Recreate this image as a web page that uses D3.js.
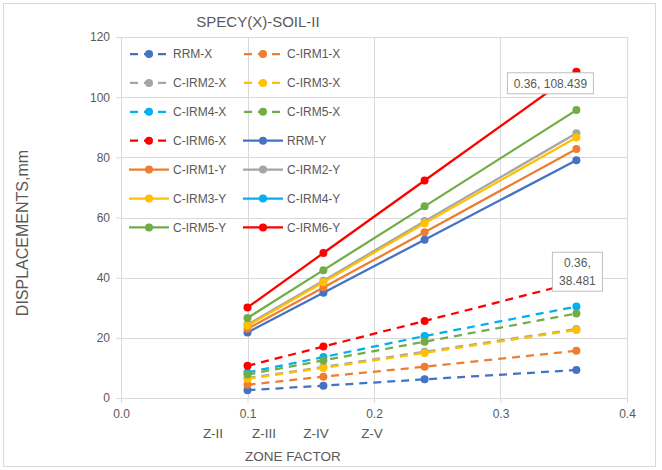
<!DOCTYPE html>
<html>
<head>
<meta charset="utf-8">
<script src="https://cdn.jsdelivr.net/npm/d3@7"></script>
<style>
  body { margin: 0; background: #fff; }
  svg { display: block; font-family: "Liberation Sans", Arial, sans-serif; }
</style>
</head>
<body>
<svg id="chart" width="662" height="470"></svg>
<script>
// zone factors on the x axis
var zoneFactor = [0.1, 0.16, 0.24, 0.36];
var xTicks = [0.0, 0.1, 0.2, 0.3, 0.4];
var yTicks = [0, 20, 40, 60, 80, 100, 120];
var zoneLabels = ["Z-II", "Z-III", "Z-IV", "Z-V"];

// displacements, mm
var rrmX   = [2.6, 4.1, 6.2, 9.3];
var cirm1X = [4.4, 7.1, 10.4, 15.7];
var cirm2X = [6.6, 10.3, 15.4, 22.9];
var cirm3X = [6.4, 10.0, 15.0, 22.6];
var cirm4X = [8.5, 13.6, 20.6, 30.4];
var cirm5X = [7.8, 12.5, 18.7, 28.1];
var cirm6X = [10.7, 17.1, 25.6, 38.481];
var rrmY   = [21.8, 35.0, 52.6, 79.0];
var cirm1Y = [23.0, 36.7, 55.1, 82.8];
var cirm2Y = [24.4, 39.0, 58.8, 88.0];
var cirm3Y = [24.0, 38.5, 58.1, 86.6];
var cirm4Y = [];
var cirm5Y = [26.6, 42.5, 63.7, 95.7];
var cirm6Y = [30.1, 48.2, 72.3, 108.439];

var seriesNames = ["RRM-X", "C-IRM1-X", "C-IRM2-X", "C-IRM3-X", "C-IRM4-X", "C-IRM5-X", "C-IRM6-X",
                   "RRM-Y", "C-IRM1-Y", "C-IRM2-Y", "C-IRM3-Y", "C-IRM4-Y", "C-IRM5-Y", "C-IRM6-Y"];
var seriesValues = [rrmX, cirm1X, cirm2X, cirm3X, cirm4X, cirm5X, cirm6X,
                    rrmY, cirm1Y, cirm2Y, cirm3Y, cirm4Y, cirm5Y, cirm6Y];
var palette = ["#4472C4", "#ED7D31", "#A5A5A5", "#FFC000", "#00B0F0", "#70AD47", "#FF0000"];

var series = seriesNames.map(function(name, i) {
  return {
    name: name,
    color: palette[i % 7],
    dashed: i < 7,
    points: seriesValues[i].map(function(v, j) { return {x: zoneFactor[j], y: v}; })
  };
});

var svg = d3.select("#chart");
var margin = {top: 37, right: 35, bottom: 72, left: 121};
var width = 662 - margin.left - margin.right;
var height = 470 - margin.top - margin.bottom;
var textColor = "#595959";
var gridColor = "#d9d9d9";

// outer chart border
svg.append("rect")
  .attr("x", 3.5).attr("y", 3.5)
  .attr("width", 652).attr("height", 463)
  .attr("fill", "none")
  .attr("stroke", gridColor);

var x = d3.scaleLinear().domain([0, 0.4]).range([0, width]);
var y = d3.scaleLinear().domain([0, 120]).range([height, 0]);

var g = svg.append("g").attr("transform", "translate(" + margin.left + "," + margin.top + ")");

// gridlines
g.append("g")
  .selectAll("line.h")
  .data(yTicks.slice(1))
  .enter().append("line")
  .attr("x1", 0).attr("x2", width)
  .attr("y1", function(d) { return Math.round(y(d)) + 0.5; })
  .attr("y2", function(d) { return Math.round(y(d)) + 0.5; })
  .attr("stroke", gridColor);

g.append("g")
  .selectAll("line.v")
  .data(xTicks.slice(1))
  .enter().append("line")
  .attr("y1", 0).attr("y2", height)
  .attr("x1", function(d) { return Math.round(x(d)) + 0.5; })
  .attr("x2", function(d) { return Math.round(x(d)) + 0.5; })
  .attr("stroke", gridColor);

// axes
var xAxis = g.append("g")
  .attr("transform", "translate(0," + height + ")")
  .call(d3.axisBottom(x).tickValues(xTicks).tickFormat(d3.format(".1f")).tickSize(5).tickSizeOuter(0));

var yAxis = g.append("g")
  .call(d3.axisLeft(y).tickValues(yTicks).tickSize(5).tickSizeOuter(0));

[xAxis, yAxis].forEach(function(ax) {
  ax.select(".domain").attr("stroke", gridColor);
  ax.selectAll(".tick line").attr("stroke", gridColor);
  ax.selectAll(".tick text")
    .attr("fill", textColor)
    .style("font-size", "12px")
    .style("font-family", "Liberation Sans, Arial, sans-serif");
});
yAxis.selectAll(".tick text").attr("x", -11);
xAxis.selectAll(".tick text").attr("y", 11);

// lines
var line = d3.line()
  .x(function(d) { return x(d.x); })
  .y(function(d) { return y(d.y); });

var sg = g.append("g")
  .selectAll("g")
  .data(series)
  .enter().append("g");

sg.append("path")
  .attr("d", function(d) { return d.points.length ? line(d.points) : null; })
  .attr("fill", "none")
  .attr("stroke", function(d) { return d.color; })
  .attr("stroke-width", 2.25)
  .attr("stroke-dasharray", function(d) { return d.dashed ? "8,6" : null; });

sg.selectAll("circle")
  .data(function(d) { return d.points.map(function(p) { return {x: p.x, y: p.y, color: d.color}; }); })
  .enter().append("circle")
  .attr("cx", function(d) { return x(d.x); })
  .attr("cy", function(d) { return y(d.y); })
  .attr("r", 4)
  .attr("fill", function(d) { return d.color; });

// legend, two columns
var legend = g.append("g")
  .selectAll("g")
  .data(series)
  .enter().append("g")
  .attr("transform", function(d, i) {
    return "translate(" + (8 + (i % 2) * 114) + "," + (17 + Math.floor(i / 2) * 28.9) + ")";
  });

legend.append("line")
  .attr("x1", 0).attr("x2", 40)
  .attr("stroke", function(d) { return d.color; })
  .attr("stroke-width", 2.25)
  .attr("stroke-dasharray", function(d) { return d.dashed ? "8,6" : null; })
  .attr("stroke-dashoffset", function(d) { return d.dashed ? -1 : null; });

legend.append("circle")
  .attr("cx", 20).attr("r", 4)
  .attr("fill", function(d) { return d.color; });

legend.append("text")
  .attr("x", 44)
  .attr("dy", "0.35em")
  .attr("fill", textColor)
  .style("font-size", "12px")
  .text(function(d) { return d.name; });

// data labels
function dataLabel(px, py, lines, bx, by, bw, bh) {
  var lg = g.append("g");
  lg.append("rect")
    .attr("x", x(px) + bx).attr("y", y(py) + by)
    .attr("width", bw).attr("height", bh)
    .attr("fill", "#fff")
    .attr("stroke", "#bfbfbf");
  lines.forEach(function(t, k) {
    lg.append("text")
      .attr("x", x(px) + bx + bw / 2)
      .attr("y", y(py) + by + 15 + k * 18)
      .attr("text-anchor", "middle")
      .attr("fill", textColor)
      .style("font-size", "12px")
      .text(t);
  });
}
dataLabel(zoneFactor[3], cirm6Y[3], ["0.36, " + cirm6Y[3]], -69, 1, 86, 21);
dataLabel(zoneFactor[3], cirm6X[3], ["0.36,", "" + cirm6X[3]], -24, -30, 50, 39);

// title and axis titles
svg.append("text")
  .attr("x", 258).attr("y", 27)
  .attr("text-anchor", "middle")
  .attr("fill", textColor)
  .style("font-size", "15px")
  .text("SPECY(X)-SOIL-II");

svg.append("text")
  .attr("transform", "translate(28,233) rotate(-90)")
  .attr("text-anchor", "middle")
  .attr("fill", textColor)
  .style("font-size", "16px")
  .text("DISPLACEMENTS,mm");

svg.append("g")
  .selectAll("text")
  .data(zoneLabels)
  .enter().append("text")
  .attr("x", function(d, i) { return [213, 264, 316, 372][i]; })
  .attr("y", 438)
  .attr("text-anchor", "middle")
  .attr("fill", textColor)
  .style("font-size", "13.5px")
  .text(function(d) { return d; });

svg.append("text")
  .attr("x", 293).attr("y", 461)
  .attr("text-anchor", "middle")
  .attr("fill", textColor)
  .style("font-size", "13.5px")
  .text("ZONE FACTOR");
</script>
</body>
</html>
